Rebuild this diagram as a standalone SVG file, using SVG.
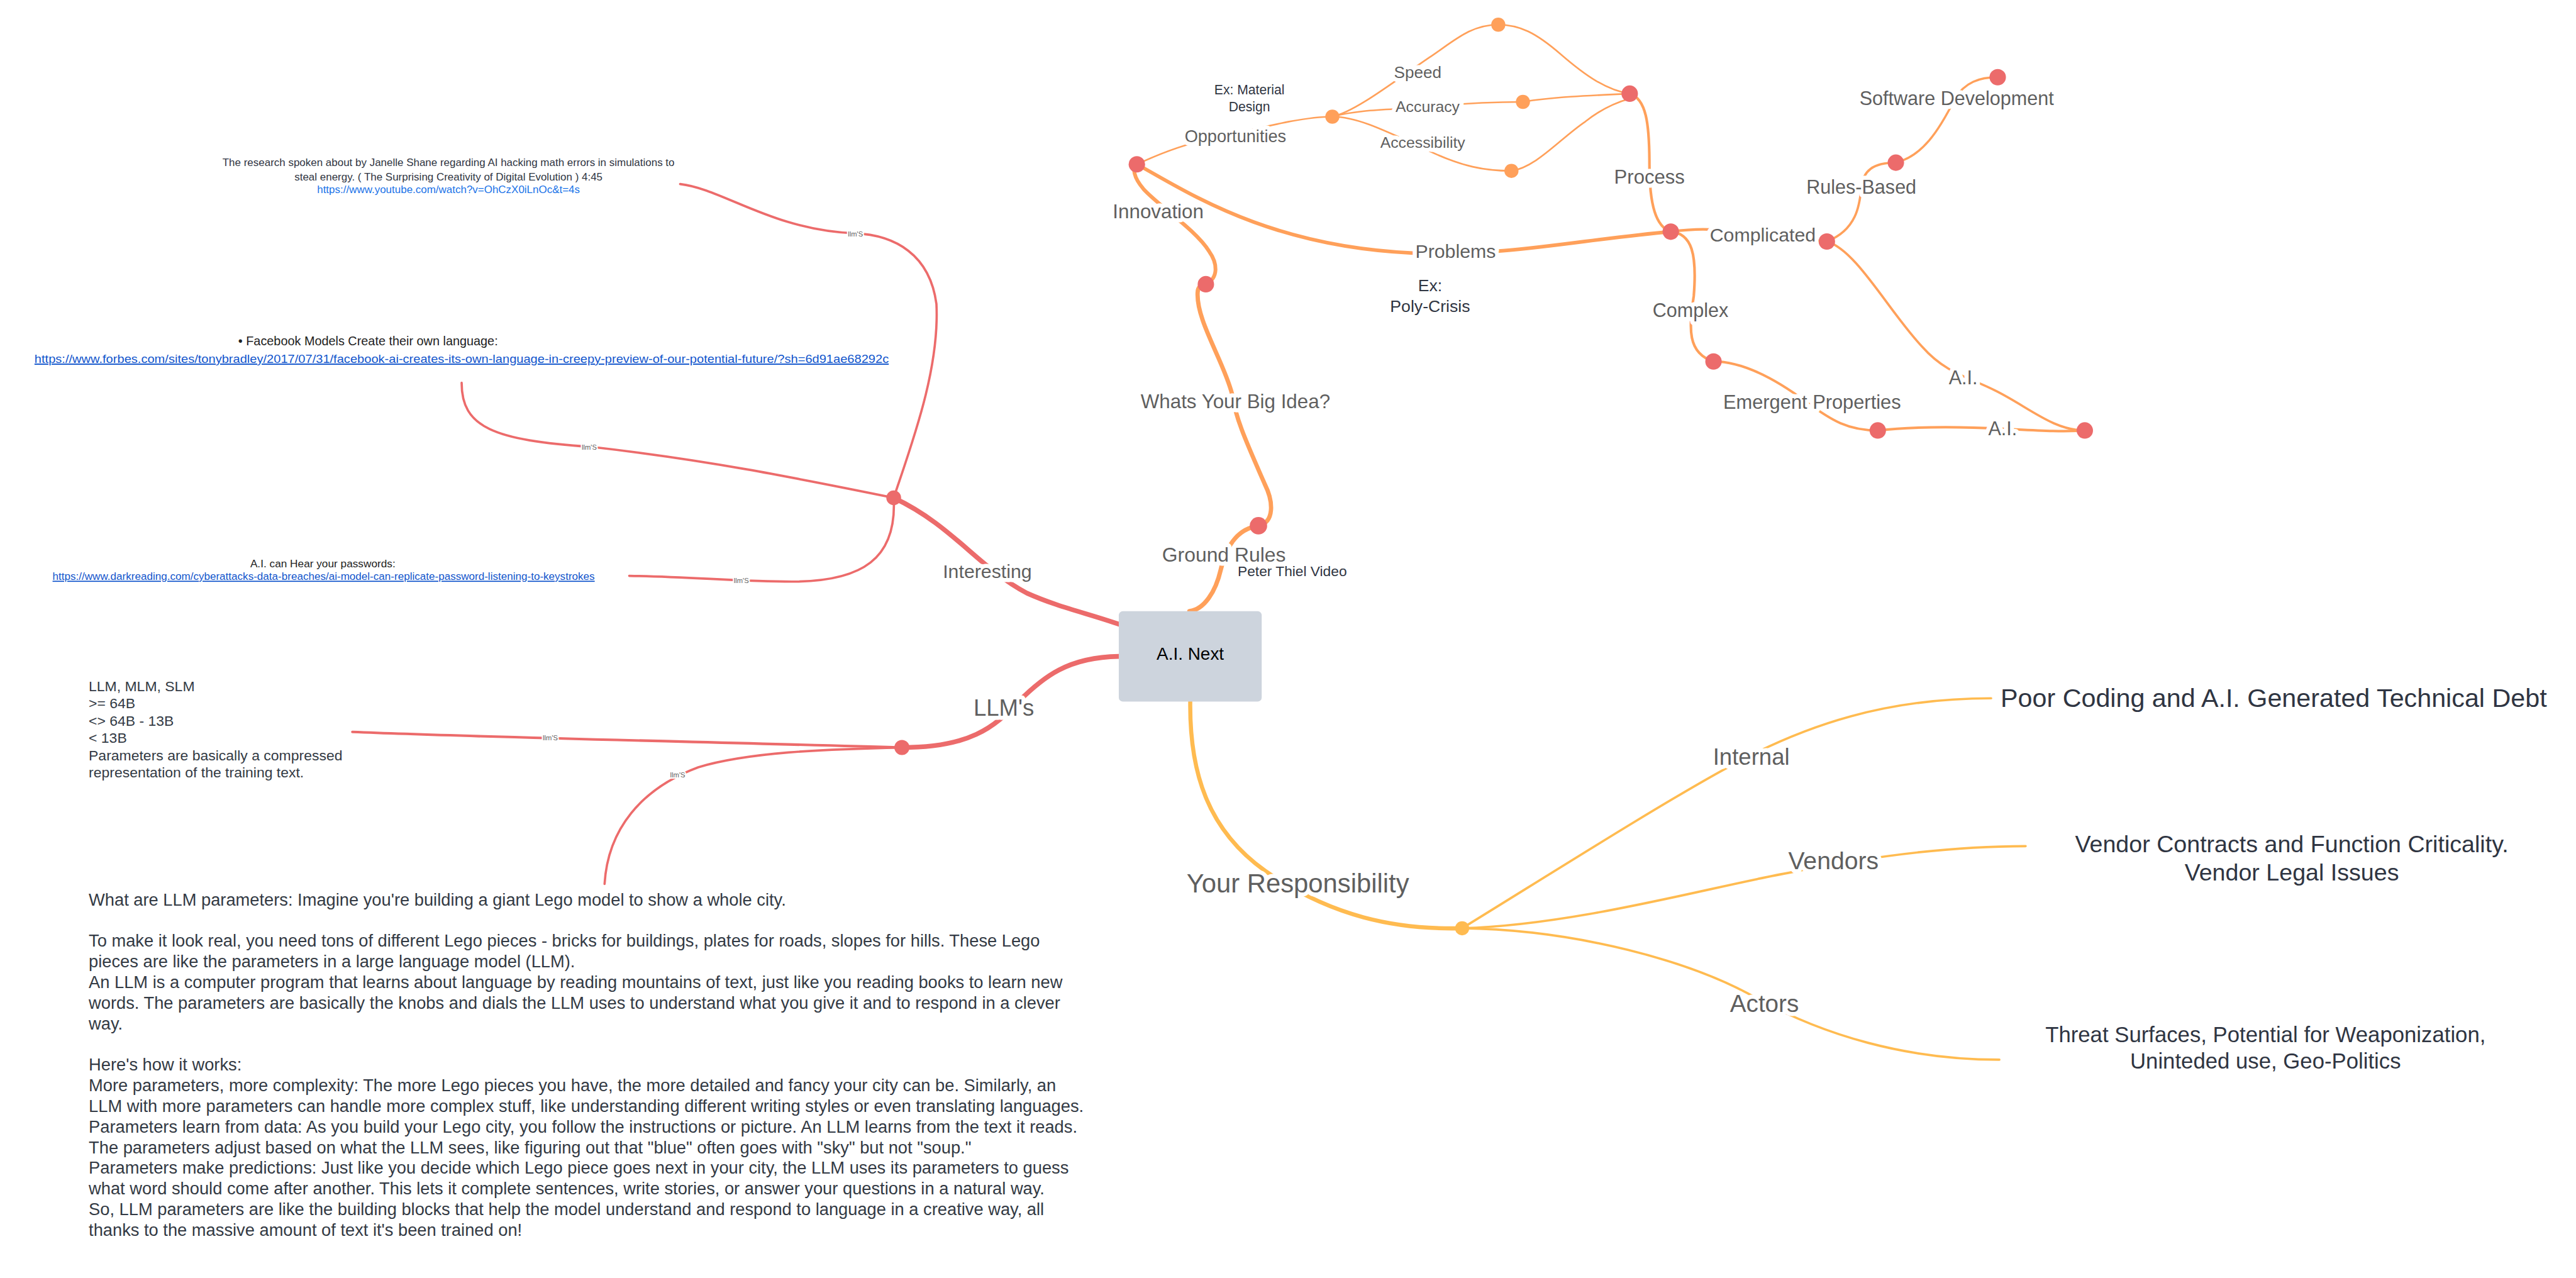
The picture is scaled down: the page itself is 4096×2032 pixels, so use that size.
<svg xmlns="http://www.w3.org/2000/svg" width="4096" height="2032" viewBox="0 0 4096 2032">
<style>
text{font-family:"Liberation Sans",Arial,sans-serif}
.c{fill:none;stroke-linecap:round}
.r{stroke:#ec6b6b}
.o{stroke:#ffa05a}
.y{stroke:#ffbb50}
.lbl{fill:#5f5f5f;text-anchor:middle;stroke:#fff;stroke-width:5;stroke-linejoin:round;paint-order:stroke}
.tiny{fill:#5f5f5f;text-anchor:middle;font-size:4.3px;stroke:#fff;stroke-width:1.6;paint-order:stroke}
.note{fill:#2f3542;text-anchor:middle}
.body{fill:#333a44}
.nr{fill:#ec6b6b}
.no{fill:#ffa05a}
.ny{fill:#ffbb50}
.link{fill:#1155cc;text-decoration:underline}
</style>
<rect width="4096" height="2032" fill="#fff"/>
<g transform="scale(2.612245)">
<g id="connectors">
<!-- red -->
<path class="c r" stroke-width="2.9" d="M544 303 C580 320,595 345,625 361 C645 370,665 374,684 381"/>
<path class="c r" stroke-width="2.9" d="M681 399.5 C650 400,635 412,620 427 C605 443,590 455,549 455"/>
<path class="c r" stroke-width="1.4" d="M544 303 C555 270,572 225,570 185 C566 155,545 143,520 142 C470 140,440 115,414 112"/>
<path class="c r" stroke-width="1.4" d="M544 303 C480 290,430 280,360 272 C300 268,281 260,281 233"/>
<path class="c r" stroke-width="1.4" d="M544 303 C546 340,525 354,482 354 C450 354,420 351,383 350.5"/>
<path class="c r" stroke-width="1.6" d="M549 455 C450 452,300 449,214.5 445.5"/>
<path class="c r" stroke-width="1.4" d="M549 455 C500 456,455 458,425 467 C390 480,370 505,368 538"/>
<!-- orange -->
<path class="c o" stroke-width="2.7" d="M724 372 C733 371,740 360,743 347 C746 334,752 322,766 320"/>
<path class="c o" stroke-width="2.6" d="M766 320 C776 318,775 305,770 295 C760 272,752 255,750 240 C745 220,728 195,729 178 C729 175,731 173,734 173"/>
<path class="c o" stroke-width="2.3" d="M734 173 C742 169,741 160,736 153 C728 140,705 125,696 115 C690 108,689 102,692 100"/>
<path class="c o" stroke-width="1" d="M692 100 C705 94,720 88,735 85 C760 80,790 71,811 71"/>
<path class="c o" stroke-width="2.2" d="M692 100 C720 115,770 150,860 154 C920 156,960 146,1017 141"/>
<path class="c o" stroke-width="1" d="M811 71 C825 68,848 50,870 35 C885 25,895 15,912 15"/>
<path class="c o" stroke-width="1" d="M811 71 C830 66,850 67,869 65 C890 63,910 62,927 62"/>
<path class="c o" stroke-width="1" d="M811 71 C825 71,840 78,866 90 C890 102,905 104,920 104"/>
<path class="c o" stroke-width="1" d="M912 15 C925 15,935 20,950 33 C965 46,978 55,992 57"/>
<path class="c o" stroke-width="1" d="M927 62 C945 59,970 58,992 57"/>
<path class="c o" stroke-width="1" d="M920 104 C935 102,950 84,965 74 C975 66,985 62,992 60"/>
<path class="c o" stroke-width="1.6" d="M992 57 C1002 60,1004 75,1004 100 C1004 125,1008 138,1017 141"/>
<path class="c o" stroke-width="1.6" d="M1017 141 C1025 140,1035 139,1045 140 C1070 141,1090 146,1112 147"/>
<path class="c o" stroke-width="1.6" d="M1017 141 C1030 142,1033 155,1031 180 C1028 200,1027 215,1043 220"/>
<path class="c o" stroke-width="1.5" d="M1043 220 C1060 220,1080 230,1100 245 C1115 256,1125 262,1143 262"/>
<path class="c o" stroke-width="1.5" d="M1143 262 C1170 259,1200 260,1220 261 C1240 262,1255 263,1269 262"/>
<path class="c o" stroke-width="1.4" d="M1112 147 C1130 140,1132 125,1133 114 C1134 104,1140 99,1154 99"/>
<path class="c o" stroke-width="1.3" d="M1154 99 C1170 95,1180 80,1190 60 C1196 50,1205 47,1216 47"/>
<path class="c o" stroke-width="1.4" d="M1112 147 C1130 152,1150 190,1170 211 C1185 228,1200 230,1215 238 C1235 248,1250 262,1269 262"/>
<!-- yellow -->
<path class="c y" stroke-width="2.5" d="M724.5 427 C724 470,735 505,770 530 C810 558,850 566,890 565"/>
<path class="c y" stroke-width="1.4" d="M890 565 C950 528,1010 490,1050 468 C1100 440,1150 425,1212 425"/>
<path class="c y" stroke-width="1.4" d="M890 565 C960 563,1040 540,1090 531 C1140 521,1190 515,1233 515"/>
<path class="c y" stroke-width="1.4" d="M890 565 C960 566,1030 585,1070 608 C1110 630,1160 645,1217 645"/>
<!-- connector labels -->
<text class="tiny" x="520.7" y="143.9">llm'S</text>
<text class="tiny" x="358.7" y="273.9">llm'S</text>
<text class="tiny" x="451.2" y="354.7">llm'S</text>
<text class="tiny" x="335" y="450.5">llm'S</text>
<text class="tiny" x="412.5" y="473.2">llm'S</text>
</g>

<g id="node-ai-next">
<rect x="681" y="372" width="87" height="55" rx="2.5" fill="#cdd4dd"/>
<text x="724.5" y="401.5" font-size="10.7" fill="#000" text-anchor="middle">A.I. Next</text>
</g>

<g id="node-interesting">
<circle class="nr" cx="544" cy="303" r="4.5"/>
<text class="lbl" x="601" y="351.8" font-size="11.6">Interesting</text>
</g>
<g id="node-research">
<text class="note" x="273" y="101" font-size="6.5" fill="#222">The research spoken about by Janelle Shane regarding AI hacking math errors in simulations to</text>
<text class="note" x="273" y="109.8" font-size="6.5" fill="#222">steal energy. ( The Surprising Creativity of Digital Evolution ) 4:45</text>
<text x="273" y="117.6" font-size="6.5" fill="#1a73e8" text-anchor="middle">https://www.youtube.com/watch?v=OhCzX0iLnOc&amp;t=4s</text>
</g>
<g id="node-facebook">
<text x="145" y="210.3" font-size="7.6" fill="#222">• Facebook Models Create their own language:</text>
<text class="link" x="21" y="220.9" font-size="7.3" textLength="520" lengthAdjust="spacingAndGlyphs">https://www.forbes.com/sites/tonybradley/2017/07/31/facebook-ai-creates-its-own-language-in-creepy-preview-of-our-potential-future/?sh=6d91ae68292c</text>
</g>
<g id="node-passwords">
<text x="196.5" y="345.2" font-size="6.6" fill="#222" text-anchor="middle">A.I. can Hear your passwords:</text>
<text class="link" x="32" y="353.1" font-size="6.6" textLength="330" lengthAdjust="spacingAndGlyphs">https://www.darkreading.com/cyberattacks-data-breaches/ai-model-can-replicate-password-listening-to-keystrokes</text>
</g>

<g id="node-llms">
<circle class="nr" cx="549" cy="455" r="4.6"/>
<text class="lbl" x="611" y="435.6" font-size="14">LLM's</text>
</g>
<g id="node-llm-sizes">
<text class="body" font-size="8.8">
<tspan x="54" y="420.6">LLM, MLM, SLM</tspan>
<tspan x="54" y="431.1">&gt;= 64B</tspan>
<tspan x="54" y="441.6">&lt;&gt; 64B - 13B</tspan>
<tspan x="54" y="452.2">&lt; 13B</tspan>
<tspan x="54" y="462.7">Parameters are basically a compressed</tspan>
<tspan x="54" y="473.2">representation of the training text.</tspan>
</text>
</g>
<g id="node-llm-params">
<text class="body" font-size="10.45">
<tspan x="54" y="551.4">What are LLM parameters: Imagine you're building a giant Lego model to show a whole city.</tspan>
<tspan x="54" y="576.3">To make it look real, you need tons of different Lego pieces - bricks for buildings, plates for roads, slopes for hills. These Lego</tspan>
<tspan x="54" y="588.9">pieces are like the parameters in a large language model (LLM).</tspan>
<tspan x="54" y="601.5">An LLM is a computer program that learns about language by reading mountains of text, just like you reading books to learn new</tspan>
<tspan x="54" y="614">words. The parameters are basically the knobs and dials the LLM uses to understand what you give it and to respond in a clever</tspan>
<tspan x="54" y="626.6">way.</tspan>
<tspan x="54" y="651.6">Here's how it works:</tspan>
<tspan x="54" y="664.2">More parameters, more complexity: The more Lego pieces you have, the more detailed and fancy your city can be. Similarly, an</tspan>
<tspan x="54" y="676.8">LLM with more parameters can handle more complex stuff, like understanding different writing styles or even translating languages.</tspan>
<tspan x="54" y="689.4">Parameters learn from data: As you build your Lego city, you follow the instructions or picture. An LLM learns from the text it reads.</tspan>
<tspan x="54" y="702">The parameters adjust based on what the LLM sees, like figuring out that "blue" often goes with "sky" but not "soup."</tspan>
<tspan x="54" y="714.5">Parameters make predictions: Just like you decide which Lego piece goes next in your city, the LLM uses its parameters to guess</tspan>
<tspan x="54" y="727.1">what word should come after another. This lets it complete sentences, write stories, or answer your questions in a natural way.</tspan>
<tspan x="54" y="739.7">So, LLM parameters are like the building blocks that help the model understand and respond to language in a creative way, all</tspan>
<tspan x="54" y="752.2">thanks to the massive amount of text it's been trained on!</tspan>
</text>
</g>

<g id="node-ground-rules">
<circle class="nr" cx="766" cy="320" r="5.3"/>
<text class="lbl" x="745" y="342" font-size="12.2">Ground Rules</text>
<text x="786.6" y="350.6" font-size="8.7" fill="#2f3542" text-anchor="middle">Peter Thiel Video</text>
</g>
<g id="node-big-idea">
<circle class="nr" cx="734" cy="173" r="5"/>
<text class="lbl" x="752" y="248.4" font-size="12">Whats Your Big Idea?</text>
</g>
<g id="node-innovation">
<circle class="nr" cx="692" cy="100" r="5"/>
<text class="lbl" x="705" y="133" font-size="12">Innovation</text>
</g>
<g id="node-opportunities">
<circle class="no" cx="811" cy="71" r="4.3"/>
<text class="lbl" x="752" y="86.6" font-size="10.4">Opportunities</text>
<text class="note" x="760.5" y="57.6" font-size="8.1">Ex: Material</text>
<text class="note" x="760.5" y="67.6" font-size="8.1">Design</text>
</g>
<g id="node-speed">
<circle class="no" cx="912" cy="15" r="4.3"/>
<text class="lbl" x="863" y="47.3" font-size="10">Speed</text>
</g>
<g id="node-accuracy">
<circle class="no" cx="927" cy="62" r="4.3"/>
<text class="lbl" x="869" y="68" font-size="9.5">Accuracy</text>
</g>
<g id="node-accessibility">
<circle class="no" cx="920" cy="104" r="4.3"/>
<text class="lbl" x="866" y="89.8" font-size="9.5">Accessibility</text>
</g>
<g id="node-process">
<circle class="nr" cx="992" cy="57" r="5"/>
<text class="lbl" x="1004" y="111.9" font-size="11.9">Process</text>
</g>
<g id="node-problems">
<circle class="nr" cx="1017" cy="141" r="5"/>
<text class="lbl" x="886" y="157" font-size="11.6">Problems</text>
<text class="note" x="870.5" y="177.3" font-size="10.2" fill="#1f2530">Ex:</text>
<text class="note" x="870.5" y="190" font-size="10.2" fill="#1f2530">Poly-Crisis</text>
</g>
<g id="node-complicated">
<circle class="nr" cx="1112" cy="147" r="5"/>
<text class="lbl" x="1073" y="146.9" font-size="11.6">Complicated</text>
</g>
<g id="node-rules-based">
<circle class="nr" cx="1154" cy="99" r="5"/>
<text class="lbl" x="1133" y="117.9" font-size="11.7">Rules-Based</text>
</g>
<g id="node-software-development">
<circle class="nr" cx="1216" cy="47" r="5"/>
<text class="lbl" x="1191" y="63.9" font-size="11.7">Software Development</text>
</g>
<g id="node-complex">
<circle class="nr" cx="1043" cy="220" r="5"/>
<text class="lbl" x="1029" y="192.9" font-size="11.7">Complex</text>
</g>
<g id="node-emergent-properties">
<circle class="nr" cx="1143" cy="262" r="5"/>
<text class="lbl" x="1103" y="248.9" font-size="11.8">Emergent Properties</text>
</g>
<g id="node-ai">
<circle class="nr" cx="1269" cy="262" r="5"/>
<text class="lbl" x="1219" y="264.9" font-size="11.7">A.I.</text>
<text class="lbl" x="1195" y="233.9" font-size="11.7">A.I.</text>
</g>

<g id="node-your-responsibility">
<circle class="ny" cx="890" cy="565" r="4.3"/>
<text class="lbl" x="790" y="543.3" font-size="16">Your Responsibility</text>
</g>
<g id="node-internal">
<text class="lbl" x="1066" y="465.6" font-size="14">Internal</text>
<text class="note" x="1384" y="430.3" font-size="15.8">Poor Coding and A.I. Generated Technical Debt</text>
</g>
<g id="node-vendors">
<text class="lbl" x="1116" y="529" font-size="15">Vendors</text>
<text class="note" x="1395" y="518.8" font-size="14.4">Vendor Contracts and Function Criticality.</text>
<text class="note" x="1395" y="535.8" font-size="14.4">Vendor Legal Issues</text>
</g>
<g id="node-actors">
<text class="lbl" x="1074" y="616" font-size="14.8">Actors</text>
<text class="note" x="1379" y="634.5" font-size="13.3">Threat Surfaces, Potential for Weaponization,</text>
<text class="note" x="1379" y="650.5" font-size="13.3">Uninteded use, Geo-Politics</text>
</g>
</g>
</svg>
